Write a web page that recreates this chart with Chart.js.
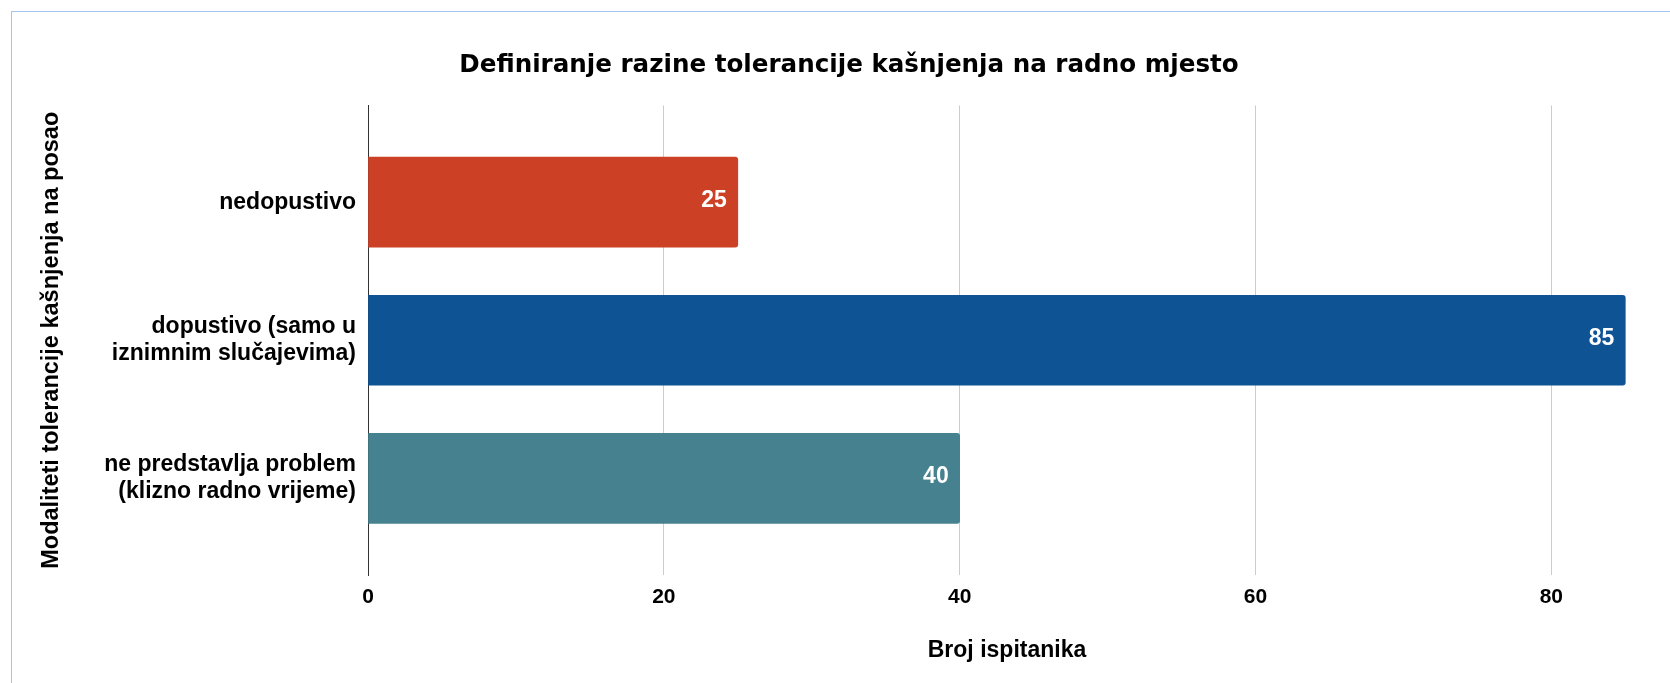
<!DOCTYPE html>
<html>
<head>
<meta charset="utf-8">
<script src="https://cdn.jsdelivr.net/npm/chart.js@4.4.1/dist/chart.umd.min.js"></script>
<style>
  html, body { margin: 0; padding: 0; background: #ffffff; overflow: hidden; }
  #wrap { position: relative; width: 1670px; height: 683px; }
  #frame { position: absolute; left: 11px; top: 11px; width: 1700px; height: 720px; border: 1px solid #a4c2f0; box-sizing: border-box; pointer-events: none; }
  canvas { position: absolute; left: 0; top: 0; }
</style>
</head>
<body>
<div id="wrap">
  <canvas id="c" width="1670" height="683"></canvas>
  <div id="frame"></div>
</div>
<script>
// ---- data ----
const chartTitle = "Definiranje razine tolerancije kašnjenja na radno mjesto";
const categories = [
  ["nedopustivo"],
  ["dopustivo (samo u", "iznimnim slučajevima)"],
  ["ne predstavlja problem", "(klizno radno vrijeme)"]
];
const values = [25, 85, 40];
const barColors = ["#cc4125", "#0e5394", "#45818e"];
const xTicks = [0, 20, 40, 60, 80];
const xTitle = "Broj ispitanika";
const yTitle = "Modaliteti tolerancije kašnjenja na posao";

const points = values.map((v, i) => ({ x: v, y: i }));

const valueLabels = {
  id: 'valueLabels',
  afterDatasetsDraw(chart) {
    const ctx = chart.ctx;
    const meta = chart.getDatasetMeta(0);
    ctx.save();
    ctx.font = "bold 23px 'Liberation Sans', Arial, sans-serif";
    ctx.fillStyle = "#ffffff";
    ctx.textAlign = "right";
    ctx.textBaseline = "middle";
    meta.data.forEach((el, i) => {
      ctx.fillText(String(values[i]), el.x - 11, el.y - 2);
    });
    ctx.restore();
  }
};

new Chart(document.getElementById('c'), {
  type: 'bar',
  data: {
    datasets: [{
      data: points,
      backgroundColor: barColors,
      borderWidth: 0,
      borderRadius: 3,
      barThickness: 90
    }]
  },
  options: {
    indexAxis: 'y',
    responsive: false,
    animation: false,
    devicePixelRatio: 1,
    layout: { padding: { left: 52, right: 24, top: 10, bottom: 0 } },
    plugins: {
      legend: { display: false },
      tooltip: { enabled: false },
      title: {
        display: true,
        text: chartTitle,
        color: '#000000',
        font: { family: "'DejaVu Sans', sans-serif", size: 24.6, weight: 'bold', lineHeight: 1.2 },
        padding: { top: 41, bottom: 25 }
      }
    },
    scales: {
      x: {
        type: 'linear',
        position: 'bottom',
        min: 0,
        max: 86.4,
        afterBuildTicks(scale) { scale.ticks = xTicks.map(v => ({ value: v })); },
        afterFit(scale) { scale.height = 108; },
        grid: { color: '#cccccc', lineWidth: 1, drawTicks: false },
        border: { display: false },
        ticks: {
          color: '#000000',
          padding: 10,
          font: { family: "'Liberation Sans', Arial, sans-serif", size: 21, weight: 'bold' }
        },
        title: {
          display: true,
          text: xTitle,
          color: '#000000',
          font: { family: "'Liberation Sans', Arial, sans-serif", size: 23, weight: 'bold', lineHeight: 1.2 },
          padding: { top: 25, bottom: 19 }
        }
      },
      y: {
        type: 'linear',
        reverse: true,
        offset: false,
        min: -0.7,
        max: 2.7,
        afterBuildTicks(scale) { scale.ticks = categories.map((c, i) => ({ value: i })); },
        afterFit(scale) { scale.width = 316; },
        grid: { display: false, drawTicks: false },
        border: { display: true, color: '#333333', width: 1 },
        ticks: {
          color: '#000000',
          padding: 12,
          font: { family: "'Liberation Sans', Arial, sans-serif", size: 23, weight: 'bold', lineHeight: 1.2 },
          callback: (v) => categories[v]
        },
        title: {
          display: true,
          text: yTitle,
          color: '#000000',
          font: { family: "'Liberation Sans', Arial, sans-serif", size: 23.5, weight: 'bold', lineHeight: 1.2 },
          padding: { top: -15, bottom: 0 }
        }
      }
    }
  },
  plugins: [valueLabels]
});
</script>
</body>
</html>
